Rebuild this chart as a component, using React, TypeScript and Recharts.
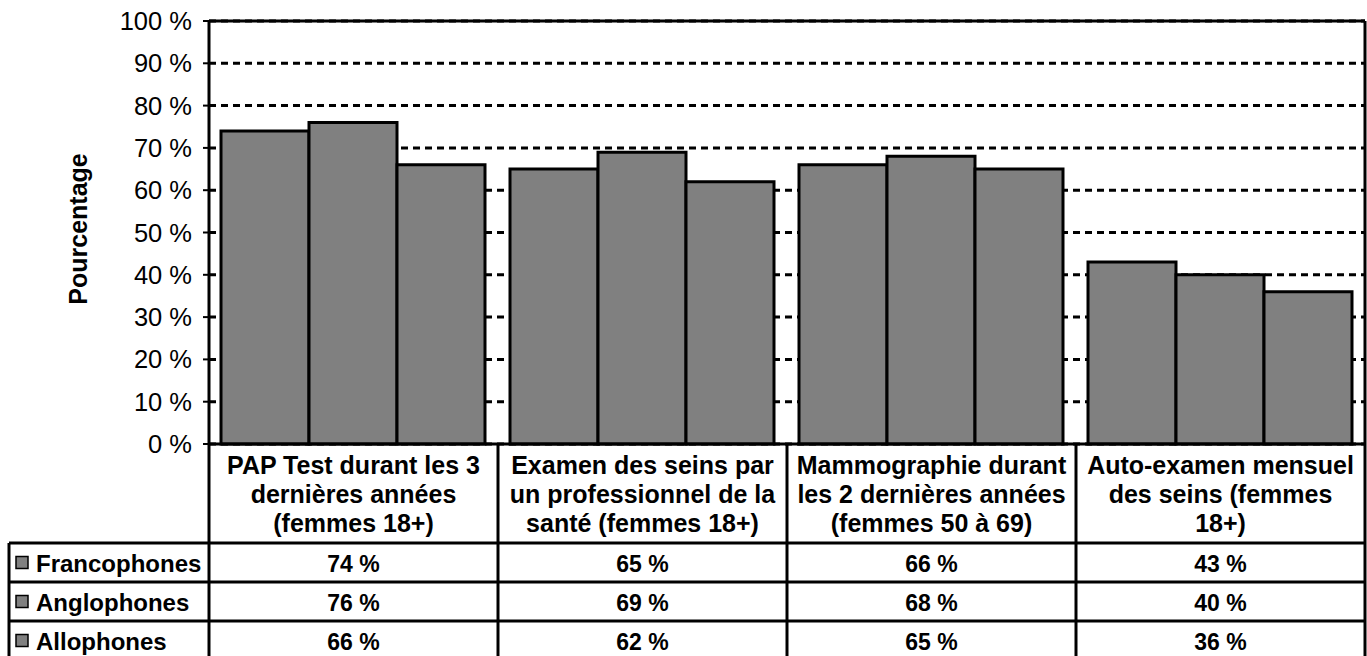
import { BarChart, Bar, XAxis, YAxis, CartesianGrid, ReferenceLine } from 'recharts'

const categoryLines = [
  ['PAP Test durant les 3', 'dernières années', '(femmes 18+)'],
  ['Examen des seins par', 'un professionnel de la', 'santé (femmes 18+)'],
  ['Mammographie durant', 'les 2 dernières années', '(femmes 50 à 69)'],
  ['Auto-examen mensuel', 'des seins (femmes', '18+)'],
]
const seriesNames = ['Francophones', 'Anglophones', 'Allophones']
const francophones = [74, 65, 66, 43]
const anglophones = [76, 69, 68, 40]
const allophones = [66, 62, 65, 36]
const yTicks = [0, 10, 20, 30, 40, 50, 60, 70, 80, 90, 100]

const seriesValues = [francophones, anglophones, allophones]

const data = categoryLines.map((lines, i) => ({
  name: lines.join(' '),
  lines,
  Francophones: francophones[i],
  Anglophones: anglophones[i],
  Allophones: allophones[i],
}))

// layout
const W = 1367
const H = 656
const PLOT_LEFT = 209
const PLOT_RIGHT = 1365
const PLOT_TOP = 21
const PLOT_BOTTOM = 444
const ROWS_Y = [543, 582, 621]
const ROW_H = 39
const BAND = (PLOT_RIGHT - PLOT_LEFT) / categoryLines.length
const FONT = '"Liberation Sans", Arial, sans-serif'
const GRAY = '#808080'

function CategoryTick(props: any) {
  const { x, payload, index } = props
  const half = BAND / 2
  const lines: string[] = categoryLines[index] ?? [String(payload.value)]
  return (
    <g>
      <line x1={x + half} x2={x + half} y1={PLOT_BOTTOM} y2={H + 5} stroke="#000" strokeWidth={3} />
      {lines.map((l, i) => (
        <text key={i} x={x} y={465 + i * 29} textAnchor="middle" dominantBaseline="central"
          fontFamily={FONT} fontSize={25} fontWeight="bold" fill="#000">{l}</text>
      ))}
      {ROWS_Y.map((ry, r) => (
        <g key={r}>
          <line x1={x - half} x2={x + half} y1={ry} y2={ry} stroke="#000" strokeWidth={3} />
          <text x={x} y={ry + ROW_H / 2 + 1} textAnchor="middle" dominantBaseline="central"
            fontFamily={FONT} fontSize={23} fontWeight="bold" fill="#000">
            {`${seriesValues[r][index]} %`}
          </text>
        </g>
      ))}
    </g>
  )
}

export default function App() {
  return (
    <div style={{ position: 'absolute', left: 0, top: 0, width: W, height: H, background: '#fff' }}>
      <BarChart
        width={W}
        height={H}
        data={data}
        margin={{ top: PLOT_TOP, right: W - PLOT_RIGHT - 2, left: 0, bottom: 0 }}
        barCategoryGap={12}
        barGap={0}
      >
        <CartesianGrid vertical={false} stroke="#000" strokeWidth={3} strokeDasharray="7 5" />
        <XAxis
          dataKey="name"
          height={H - PLOT_BOTTOM}
          axisLine={{ stroke: '#000', strokeWidth: 3 }}
          tickLine={false}
          tick={<CategoryTick />}
          interval={0}
        />
        <YAxis
          width={PLOT_LEFT}
          domain={[0, 100]}
          ticks={yTicks}
          interval={0}
          tickFormatter={(v: number) => `${v} %`}
          axisLine={{ stroke: '#000', strokeWidth: 3 }}
          tickLine={{ stroke: '#000', strokeWidth: 2 }}
          tickSize={6}
          tickMargin={11}
          tick={{ fill: '#000', fontSize: 25.5, fontFamily: FONT }}
        />
        <YAxis
          yAxisId="right"
          orientation="right"
          width={2}
          domain={[0, 100]}
          tick={false}
          tickLine={false}
          axisLine={{ stroke: '#000', strokeWidth: 3 }}
        />
        <ReferenceLine y={100} stroke="#000" strokeWidth={3} />
        {seriesNames.map(s => (
          <Bar key={s} dataKey={s} fill={GRAY} stroke="#000" strokeWidth={3} isAnimationActive={false} />
        ))}

        {/* titre de l'axe */}
        <text x={78} y={229} transform="rotate(-90 78 229)" textAnchor="middle" dominantBaseline="central"
          fontFamily={FONT} fontSize={25} fontWeight="bold" fill="#000">Pourcentage</text>

        {/* colonne de légende du tableau */}
        <g>
          <line x1={PLOT_LEFT} x2={PLOT_LEFT} y1={PLOT_BOTTOM} y2={H + 5} stroke="#000" strokeWidth={3} />
          <line x1={9} x2={9} y1={ROWS_Y[0]} y2={H + 5} stroke="#000" strokeWidth={3} />
          {seriesNames.map((s, r) => (
            <g key={s}>
              <line x1={9} x2={PLOT_LEFT} y1={ROWS_Y[r]} y2={ROWS_Y[r]} stroke="#000" strokeWidth={3} />
              <rect x={16} y={ROWS_Y[r] + ROW_H / 2 - 6} width={12} height={12} fill={GRAY} stroke="#000" strokeWidth={1.5} />
              <text x={36} y={ROWS_Y[r] + ROW_H / 2 + 1} dominantBaseline="central"
                fontFamily={FONT} fontSize={24} fontWeight="bold" fill="#000">{s}</text>
            </g>
          ))}
        </g>
      </BarChart>
    </div>
  )
}
